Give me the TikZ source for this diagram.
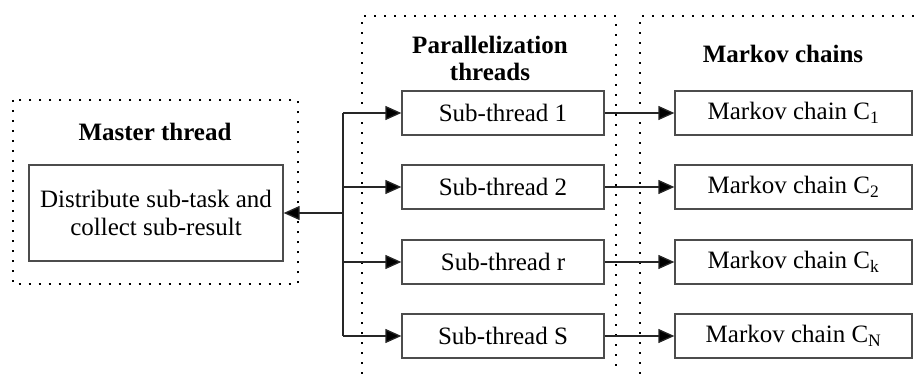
\documentclass[tikz,border=0pt]{standalone}
\usepackage{fontspec}
\setmainfont{Liberation Serif}
\usetikzlibrary{arrows.meta}
\begin{document}
\begin{tikzpicture}[x=1pt,y=-1pt,
  box/.style={draw=black!70,line width=1.3pt,inner sep=0pt,
    font=\fontsize{25}{28}\selectfont,align=center},
  subbox/.style={box,minimum width=202pt,minimum height=44pt},
  mkbox/.style={box,minimum width=237pt,minimum height=44pt},
  dots/.style={line width=2pt,dash pattern=on 2pt off 8pt},
  conn/.style={draw=black!85,line width=1.3pt},
  arr/.style={conn,-{Triangle[length=16pt,width=14pt,fill=black]}},
  title/.style={font=\fontsize{25}{27}\selectfont\bfseries,align=center}]
\useasboundingbox (0,0) rectangle (915,374);

% dotted groups
\draw[dots] (12.7,100) rectangle (298,284);
\draw[dots] (362,374) -- (362,16) -- (616,16) -- (616,374);
\draw[dots] (640,374) -- (640,16) -- (915,16);

% titles
\node[title,anchor=base] (tmaster) at (155,141) {Master thread};
\node[title] (tpar) at (490,58) {Parallelization\\threads};
\node[title,anchor=base] (tmk) at (783,63) {Markov chains};

% boxes
\node[box,minimum width=254pt,minimum height=96pt] (master) at (156,213)
  {Distribute sub-task and\\collect sub-result};
\node[subbox] (s1) at (503,113) {Sub-thread 1};
\node[subbox] (s2) at (503,187) {Sub-thread 2};
\node[subbox] (s3) at (503,262) {Sub-thread r};
\node[subbox] (s4) at (503,336) {Sub-thread S};
\node[mkbox] (m1) at (793.5,113) {Markov chain C\textsubscript{1}};
\node[mkbox] (m2) at (793.5,187) {Markov chain C\textsubscript{2}};
\node[mkbox] (m3) at (793.5,262) {Markov chain C\textsubscript{k}};
\node[mkbox] (m4) at (793.5,336) {Markov chain C\textsubscript{N}};

% trunk
\coordinate (t1) at (343,113);
\coordinate (t4) at (343,336);
\coordinate (tm) at (343,213);
\draw[conn] (t1) -- (t4);
\draw[arr] (tm) -- (master.east);
\draw[arr] (t1) -- (s1.west);
\draw[arr] (s2.west -| t1) -- (s2.west);
\draw[arr] (s3.west -| t1) -- (s3.west);
\draw[arr] (t4) -- (s4.west);

\draw[arr] (s1.east) -- (m1.west);
\draw[arr] (s2.east) -- (m2.west);
\draw[arr] (s3.east) -- (m3.west);
\draw[arr] (s4.east) -- (m4.west);
\end{tikzpicture}
\end{document}
